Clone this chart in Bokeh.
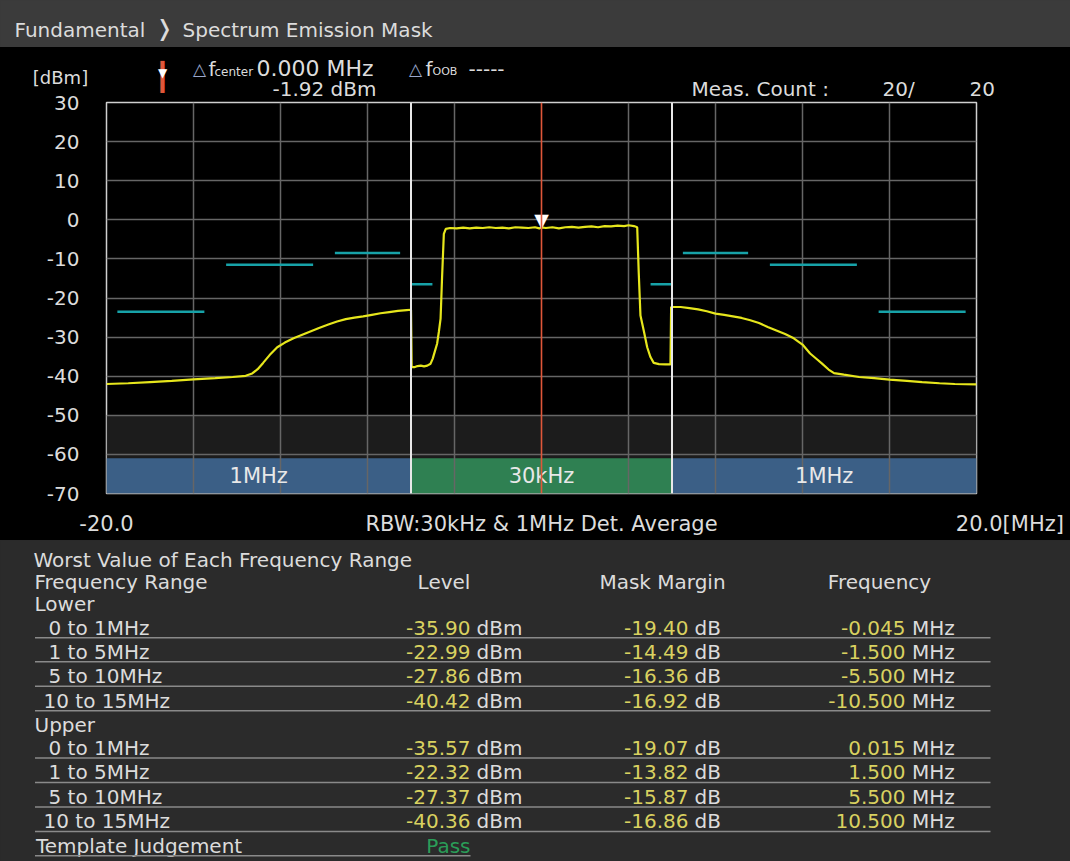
from bokeh.plotting import figure
from bokeh.models import Range1d, FixedTicker, Span
from bokeh.layouts import column
from bokeh.embed import file_html
from bokeh.resources import INLINE
from bokeh.core.properties import value

# ---------------- data ----------------
trace_freq = [
    -20.0, -19.0, -18.0, -17.0, -16.0, -15.0, -14.2, -13.6, -13.3, -13.05, -12.8, -12.5,
    -12.15, -11.8, -11.4, -11.0, -10.6, -10.2, -9.8, -9.4, -9.0, -8.6, -8.2, -7.8, -7.4,
    -7.0, -6.6, -6.2, -6.0,
    -5.97, -5.85, -5.7, -5.55, -5.4, -5.25, -5.1, -5.0, -4.9, -4.8, -4.72, -4.64, -4.57,
    -4.49, -4.4,
    -4.2, -3.9, -3.6, -3.3, -3.0, -2.7, -2.4, -2.1, -1.8, -1.5, -1.2, -0.9, -0.6, -0.3,
    -0.1, 0.0, 0.2, 0.5, 0.8, 1.1, 1.4, 1.7, 2.0, 2.3, 2.6, 2.9, 3.2, 3.5, 3.8, 4.0,
    4.25, 4.4,
    4.47, 4.55, 4.7, 4.86, 5.01, 5.16, 5.4, 5.7, 5.93,
    5.96, 6.4, 6.8, 7.2, 7.6, 8.0, 8.4, 8.8, 9.2, 9.6, 10.0, 10.4, 10.8, 11.2, 11.6,
    12.0, 12.35, 12.65, 12.9, 13.2, 13.45, 13.9, 14.6, 15.3, 16.0, 16.8, 17.5, 18.3,
    19.0, 20.0,
]
trace_level = [
    -42.0, -41.8, -41.5, -41.2, -40.8, -40.5, -40.2, -39.9, -39.3, -38.2, -36.6, -34.6,
    -32.6, -31.4, -30.3, -29.4, -28.5, -27.6, -26.8, -26.0, -25.4, -25.0, -24.7, -24.3, -23.9,
    -23.6, -23.3, -23.1, -23.0,
    -37.7, -37.7, -37.4, -37.3, -37.5, -37.3, -36.8, -35.5, -33.6, -31.7, -28.7, -25.3, -14.5,
    -3.6, -2.3,
    -2.1, -2.2, -2.0, -2.2, -2.0, -2.1, -1.9, -2.1, -2.0, -2.2, -1.9, -2.0, -2.1, -1.9,
    -2.2, -1.92, -2.1, -1.9, -2.2, -1.9, -1.8, -2.0, -1.8, -1.7, -1.9, -1.6, -1.7, -1.5, -1.6, -1.4,
    -1.6, -1.9,
    -13.4, -24.5, -28.3, -32.6, -35.1, -36.6, -36.9, -37.0, -37.0,
    -22.3, -22.3, -22.6, -22.9, -23.4, -24.0, -24.3, -24.7, -25.1, -25.7, -26.4, -27.4, -28.3, -29.2, -30.3,
    -31.9, -34.2, -35.6, -36.8, -38.3, -39.2, -39.6, -40.2, -40.5, -40.9, -41.2, -41.5, -41.8,
    -42.0, -42.1,
]

mask_start = [-19.5, -14.5, -9.5, -5.985, 5.015, 6.5, 10.5, 15.5]
mask_end = [-15.5, -10.5, -6.5, -5.015, 5.985, 9.5, 14.5, 19.5]
mask_level = [-23.5, -11.5, -8.5, -16.5, -16.5, -8.5, -11.5, -23.5]

rbw_start = [-20.0, -6.0, 6.0]
rbw_end = [-6.0, 6.0, 20.0]
rbw_label = ["1MHz", "30kHz", "1MHz"]

marker_freq = 0.000
marker_level = -1.92

y_ticks = [30, 20, 10, 0, -10, -20, -30, -40, -50, -60, -70]
x_grid_ticks = [-16, -12, -8, -4, 4, 8, 12, 16]
x_span = [-20.0, 20.0]
meas_count = 20
meas_total = 20

range_names = ["0 to 1MHz", "1 to 5MHz", "5 to 10MHz", "10 to 15MHz"]
lower_level = [-35.90, -22.99, -27.86, -40.42]
lower_margin = [-19.40, -14.49, -16.36, -16.92]
lower_freq = [-0.045, -1.500, -5.500, -10.500]
upper_level = [-35.57, -22.32, -27.37, -40.36]
upper_margin = [-19.07, -13.82, -15.87, -16.86]
upper_freq = [0.015, 1.500, 5.500, 10.500]
judgement = "Pass"

# ---------------- styles ----------------
FONT = "DejaVu Sans"
TXT = "#dcdcdc"
YEL = "#d9d160"
HDR_BG = "#3b3b3b"
TBL_BG = "#2b2b2b"
GRID = "#666666"
W = 1070


def strip(height, y0, y1, bg):
    f = figure(width=W, height=height, x_range=Range1d(0, W), y_range=Range1d(y1, y0),
               output_backend="svg", toolbar_location=None, x_axis_location=None,
               y_axis_location=None, min_border=0, frame_align=False,
               styles={"background-color": bg})
    f.background_fill_color = bg
    f.border_fill_color = bg
    f.outline_line_color = None
    f.grid.visible = False
    return f


def txt(f, x, y, text, size="20px", color=TXT, align="left", font=FONT):
    f.text(x=x, y=y, text=text, text_font=value(font), text_font_size=size, text_color=color,
           text_align=align, text_baseline="middle")


# ---------------- header ----------------
hdr = strip(47, 0, 47, HDR_BG)
txt(hdr, [14], [29], ["Fundamental"])
txt(hdr, [164], [28], ["\u276d"], size="22px", align="center")
txt(hdr, [182], [29], ["Spectrum Emission Mask"])

# ---------------- marker info strip ----------------
top = strip(55, 47, 102, "black")
txt(top, [60], [77], ["[dBm]"], size="18px", align="center")
txt(top, [162], [76], ["\u2503"], size="27px", color="#e0573a", align="center")
txt(top, [162], [72], ["\u25bc"], size="12px", color="white", align="center")
txt(top, [199, 415], [68, 68], ["\u25b3", "\u25b3"], size="17px", color="#9aa8cc", align="center")
txt(top, [208, 425], [68, 68], ["f", "f"])
txt(top, [214], [71], ["center"], size="12px")
txt(top, [432], [71], ["OOB"], size="11px")
txt(top, [256], [68], [f"{marker_freq:.3f} MHz"], size="22px")
txt(top, [468], [68], ["-----"])
txt(top, [272], [88], [f"{marker_level:.2f} dBm"])
txt(top, [691], [88], ["Meas. Count :"])
txt(top, [882], [88], [f"{meas_count}/"])
txt(top, [969], [88], [f"{meas_total}"])

# ---------------- spectrum ----------------
p = figure(frame_width=870, frame_height=391,
           x_range=Range1d(x_span[0], x_span[1]), y_range=Range1d(y_ticks[-1], y_ticks[0]),
           output_backend="svg", toolbar_location=None, x_axis_location="below",
           y_axis_location="left", min_border_left=106, min_border_right=94,
           min_border_top=12, min_border_bottom=47, frame_align=False,
           margin=(-12, 0, 0, 0))
p.background_fill_color = "black"
p.border_fill_color = None
p.outline_line_color = "#cfcfcf"
p.outline_line_width = 1.5

for ax in (p.xaxis, p.yaxis):
    ax.axis_line_color = None
    ax.major_tick_line_color = None
    ax.minor_tick_line_color = None
    ax.major_tick_out = 0
    ax.major_tick_in = 0
    ax.major_label_text_color = TXT
    ax.major_label_text_font = FONT

p.yaxis.ticker = FixedTicker(ticks=y_ticks)
p.yaxis.major_label_overrides = {t: str(t) for t in y_ticks}
p.yaxis.major_label_standoff = 27
p.yaxis.major_label_text_font_size = "20px"

nb = "\u00a0" * 10
p.xaxis.ticker = FixedTicker(ticks=[x_span[0], 0, x_span[1]])
p.xaxis.major_label_overrides = {
    x_span[0]: f"{x_span[0]:.1f}",
    0: "RBW:30kHz & 1MHz Det. Average",
    x_span[1]: f"{nb}{x_span[1]:.1f}[MHz]",
}
p.xaxis.major_label_standoff = 18
p.xaxis.major_label_text_font_size = "21px"

p.xgrid.ticker = FixedTicker(ticks=x_grid_ticks)
p.ygrid.ticker = FixedTicker(ticks=y_ticks[1:-1])
p.grid.grid_line_color = GRID
p.grid.grid_line_width = 1.5

band = p.quad(left=[x_span[0]], right=[x_span[1]], bottom=[y_ticks[-1]], top=[-50],
              fill_color="#212121", fill_alpha=0.85, line_color=None)
band.level = "image"
bars = p.quad(left=rbw_start, right=rbw_end, bottom=y_ticks[-1], top=-61,
              fill_color=["#3b5f86", "#2f8052", "#3b5f86"], line_color=None)
bars.level = "image"
p.text(x=[(a + b) / 2 for a, b in zip(rbw_start, rbw_end)], y=-65.5, text=rbw_label,
       text_font=value(FONT), text_font_size="21px", text_color="#e8e8e8",
       text_align="center", text_baseline="middle")

p.segment(x0=mask_start, x1=mask_end, y0=mask_level, y1=mask_level,
          line_color="#17a2a8", line_width=2.5)

p.line(trace_freq, trace_level, line_color="#e6e61c", line_width=2.2)

for b in rbw_start[1:]:
    p.add_layout(Span(location=b, dimension="height", line_color="#e8e8e8", line_width=2))
p.add_layout(Span(location=marker_freq, dimension="height", line_color="#e0573a", line_width=1.6))

p.text(x=[marker_freq], y=[marker_level], text=["\u25bc"], text_font=value(FONT),
       text_font_size="19px", text_color="white", text_align="center", text_baseline="bottom",
       y_offset=4)

# ---------------- table ----------------
t = strip(321, 540, 861, TBL_BG)

txt(t, [33], [559], ["Worst Value of Each Frequency Range"])
txt(t, [34], [581.7], ["Frequency Range"])
txt(t, [443.5, 662, 879], [581.7] * 3, ["Level", "Mask Margin", "Frequency"], align="center")

blocks = [
    (603.3, "Lower", [627, 651, 675.5, 700], lower_level, lower_margin, lower_freq),
    (724, "Upper", [747.3, 771.7, 796.3, 820.7], upper_level, upper_margin, upper_freq),
]
for hy, name, ys, lv, mg, fq in blocks:
    txt(t, [34], [hy], [name])
    nx = [43 if len(n.split()[0]) > 1 else 48 for n in range_names]
    txt(t, nx, ys, range_names)
    txt(t, 470, ys, [f"{v:.2f}" for v in lv], color=YEL, align="right")
    txt(t, 476, ys, ["dBm"] * len(ys))
    txt(t, 688, ys, [f"{v:.2f}" for v in mg], color=YEL, align="right")
    txt(t, 694, ys, ["dB"] * len(ys))
    txt(t, 905, ys, [f"{v:.3f}" for v in fq], color=YEL, align="right")
    txt(t, 911.5, ys, ["MHz"] * len(ys))
    sy = [y + 10.3 for y in ys]
    t.segment(x0=34.5, x1=990, y0=sy, y1=sy, line_color="#8a8a8a", line_width=1.5)

txt(t, [35.5], [845], ["Template Judgement"])
txt(t, [470], [845], [judgement], color="#2a9d58", align="right")
t.segment(x0=[34.5], x1=[470], y0=[855.3], y1=[855.3], line_color="#8a8a8a", line_width=1.5)

layout = column(hdr, top, p, t, spacing=0, styles={"background-color": "black"})
open("out.html", "w").write(file_html(layout, INLINE))
